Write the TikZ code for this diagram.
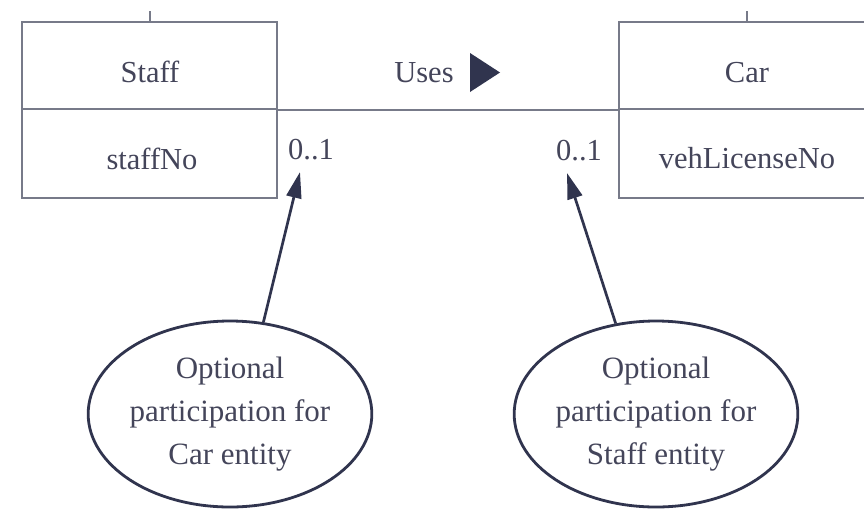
\documentclass[tikz,border=0pt]{standalone}
\usepackage{fontspec}
\setmainfont{Liberation Serif}
\usetikzlibrary{shapes.geometric,arrows.meta}
\definecolor{txt}{HTML}{44455A}
\definecolor{boxline}{HTML}{777A89}
\definecolor{ink}{HTML}{30344E}
\begin{document}
\begin{tikzpicture}[x=1pt,y=-1pt,
  lbl/.style={text=txt,font=\fontsize{30.5}{36}\selectfont,inner sep=0pt,anchor=base},
  entpart/.style={draw=boxline,line width=2.3pt,inner sep=0pt,minimum width=255pt},
  note/.style={ellipse,draw=ink,line width=2.8pt,minimum height=186pt,inner sep=0pt,
    align=center,text=txt,font=\fontsize{31}{43}\selectfont},
  pointer/.style={draw=ink,line width=2.7pt,-{Triangle[length=26pt,width=15pt]}}]
\clip (0,0) rectangle (864,509);
\fill[white] (0,0) rectangle (864,509);
% entity boxes
\node[entpart,minimum height=87pt] (staffH) at (149.5,65.5) {};
\node[entpart,minimum height=89pt] (staffB) at (149.5,153.5) {};
\node[entpart,minimum height=87pt] (carH) at (746.5,65.5) {};
\node[entpart,minimum height=89pt] (carB) at (746.5,153.5) {};
\draw[boxline,line width=2pt] (staffH.north) -- ++(0,-10);
\draw[boxline,line width=2pt] (carH.north) -- ++(0,-10);
\draw[boxline,line width=2.3pt] (staffH.south east) -- (carH.south west);
% texts
\node[lbl] (staffT) at (150,82) {Staff};
\node[lbl] (staffNoT) at (152,169) {staffNo};
\node[lbl] (carT) at (747,82) {Car};
\node[lbl] (vehT) at (747,168) {vehLicenseNo};
\node[lbl] (usesT) at (424,82) {Uses};
\fill[ink] (470,53) -- (500,72.5) -- (470,92) -- cycle;
\node[lbl] (m1) at (311,159) {0..1};
\node[lbl] (m2) at (579,160) {0..1};
% notes
\node[note,minimum width=276pt] (e1) at (230,414) {Optional\\participation for\\Car entity};
\node[note,minimum width=282pt] (e2) at (656,414) {Optional\\participation for\\Staff entity};
\coordinate (t1) at (300,172);
\coordinate (t2) at (567,173);
\draw[pointer] (e1.70) -- (t1);
\draw[pointer] (e2.114) -- (t2);
\end{tikzpicture}
\end{document}
